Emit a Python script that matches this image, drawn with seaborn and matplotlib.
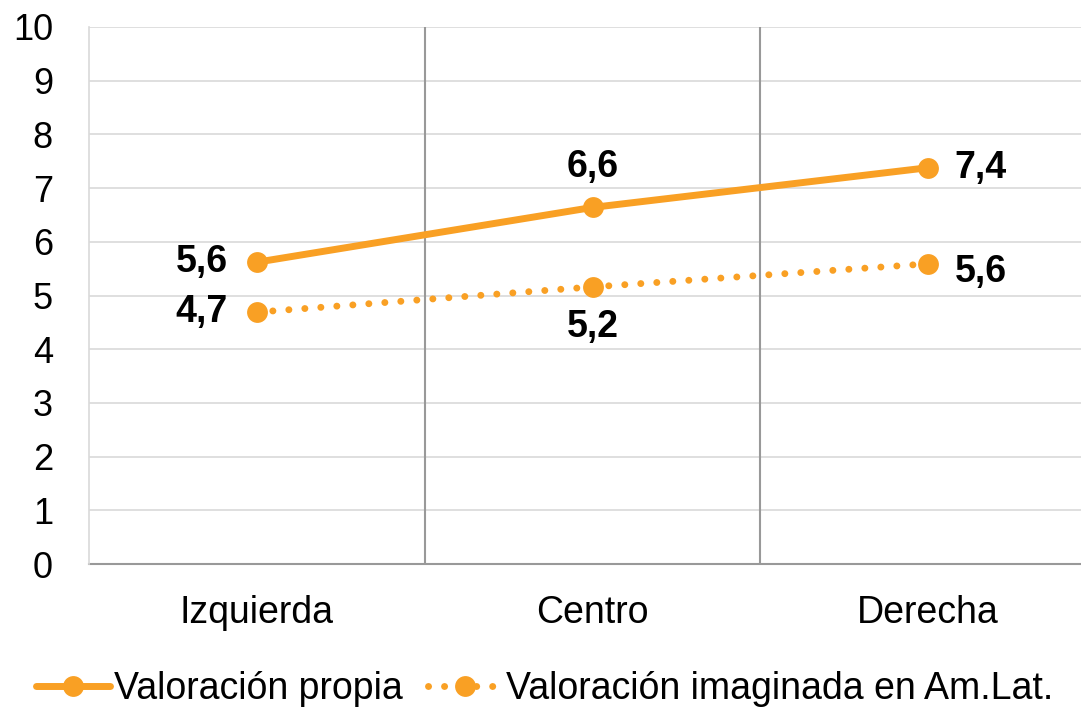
import matplotlib
matplotlib.use("Agg")
import matplotlib.pyplot as plt
import seaborn as sns
import pandas as pd
from matplotlib.lines import Line2D

categories = ["Izquierda", "Centro", "Derecha"]
propia = [5.62, 6.64, 7.38]
imaginada = [4.69, 5.16, 5.59]
series_names = ["Valoración propia", "Valoración imaginada en Am.Lat."]
y_ticks = [0, 1, 2, 3, 4, 5, 6, 7, 8, 9, 10]

sns.set_theme(style="white")
plt.rcParams["font.family"] = ["Liberation Sans", "DejaVu Sans"]
plt.rcParams["text.color"] = "black"
plt.rcParams["xtick.color"] = "black"
plt.rcParams["ytick.color"] = "black"

ORANGE = "#F9A024"
LIGHT = "#D9D9D9"
DARK = "#999999"
FS = 27

df = pd.DataFrame({
    "cat": categories * 2,
    "pos": list(range(len(categories))) * 2,
    "val": propia + imaginada,
    "serie": [series_names[0]] * 3 + [series_names[1]] * 3,
})

fig = plt.figure(figsize=(10.81, 7.09), dpi=100)
ax = fig.add_axes([89 / 1081, 1 - 564 / 709, 1007 / 1081, 537 / 709])

lw = 5.0
ms = 15
dots = (0, (0.01, 2.3))
d0 = df[df.serie == series_names[0]]
d1 = df[df.serie == series_names[1]]
sns.lineplot(data=d0, x="pos", y="val", ax=ax, color=ORANGE, lw=lw,
             marker="o", markersize=ms, markeredgewidth=0, legend=False,
             solid_capstyle="round", zorder=5)
sns.lineplot(data=d1, x="pos", y="val", ax=ax, color=ORANGE, lw=lw,
             marker="o", markersize=ms, markeredgewidth=0, legend=False,
             linestyle=dots, dash_capstyle="round", zorder=5)

ax.set_xlim(-0.5, 2.5)
ax.set_ylim(0, 10)
ax.set_xlabel("")
ax.set_ylabel("")

# y axis
ax.set_yticks(y_ticks)
ax.set_yticklabels([str(t) for t in y_ticks], fontsize=26)
ax.tick_params(axis="y", length=11, width=1.2, color=LIGHT, pad=15, labelcolor="black")
ax.yaxis.grid(True, color=LIGHT, lw=1.2)

# x axis
ax.set_xticks(range(len(categories)))
ax.set_xticklabels(categories, fontsize=FS)
ax.tick_params(axis="x", which="major", length=0, pad=22, labelcolor="black")
ax.set_xticks([-0.5, 0.5, 1.5, 2.5], minor=True)
ax.tick_params(axis="x", which="minor", length=11, width=1.5, color=DARK)
for xv in [0.5, 1.5]:
    ax.axvline(xv, color=DARK, lw=1.5, zorder=1)

for side in ["top", "right"]:
    ax.spines[side].set_visible(False)
ax.spines["left"].set_color(LIGHT)
ax.spines["left"].set_linewidth(1.2)
ax.spines["bottom"].set_color(DARK)
ax.spines["bottom"].set_linewidth(1.5)
ax.spines["bottom"].set_zorder(2)

def fmt(v):
    return f"{v:.1f}".replace(".", ",")

lab_kw = dict(fontsize=FS, fontweight="bold", color="black", zorder=6)
# propia labels
ax.annotate(fmt(propia[0]), (0, propia[0]), xytext=(-21, 0), textcoords="offset points",
            ha="right", va="center", **lab_kw)
ax.annotate(fmt(propia[1]), (1, propia[1]), xytext=(0, 16), textcoords="offset points",
            ha="center", va="bottom", **lab_kw)
ax.annotate(fmt(propia[2]), (2, propia[2]), xytext=(19, 0), textcoords="offset points",
            ha="left", va="center", **lab_kw)
# imaginada labels
ax.annotate(fmt(imaginada[0]), (0, imaginada[0]), xytext=(-21, 0), textcoords="offset points",
            ha="right", va="center", **lab_kw)
ax.annotate(fmt(imaginada[1]), (1, imaginada[1]), xytext=(0, -16), textcoords="offset points",
            ha="center", va="top", **lab_kw)
ax.annotate(fmt(imaginada[2]), (2, imaginada[2]), xytext=(19, -6), textcoords="offset points",
            ha="left", va="center", **lab_kw)

handles = [
    Line2D([], [], color=ORANGE, lw=lw, marker="o", markersize=ms, markeredgewidth=0,
           solid_capstyle="round"),
    Line2D([], [], color=ORANGE, lw=lw, marker="o", markersize=ms, markeredgewidth=0,
           linestyle=dots, dash_capstyle="round"),
]
fig.legend(handles, series_names, loc="center", bbox_to_anchor=(545 / 1081, 1 - 689 / 709),
           ncol=2, frameon=False, fontsize=FS, handlelength=1.95, handletextpad=0.13,
           columnspacing=0.67, borderaxespad=0)

fig.savefig("out.png", dpi=100)
